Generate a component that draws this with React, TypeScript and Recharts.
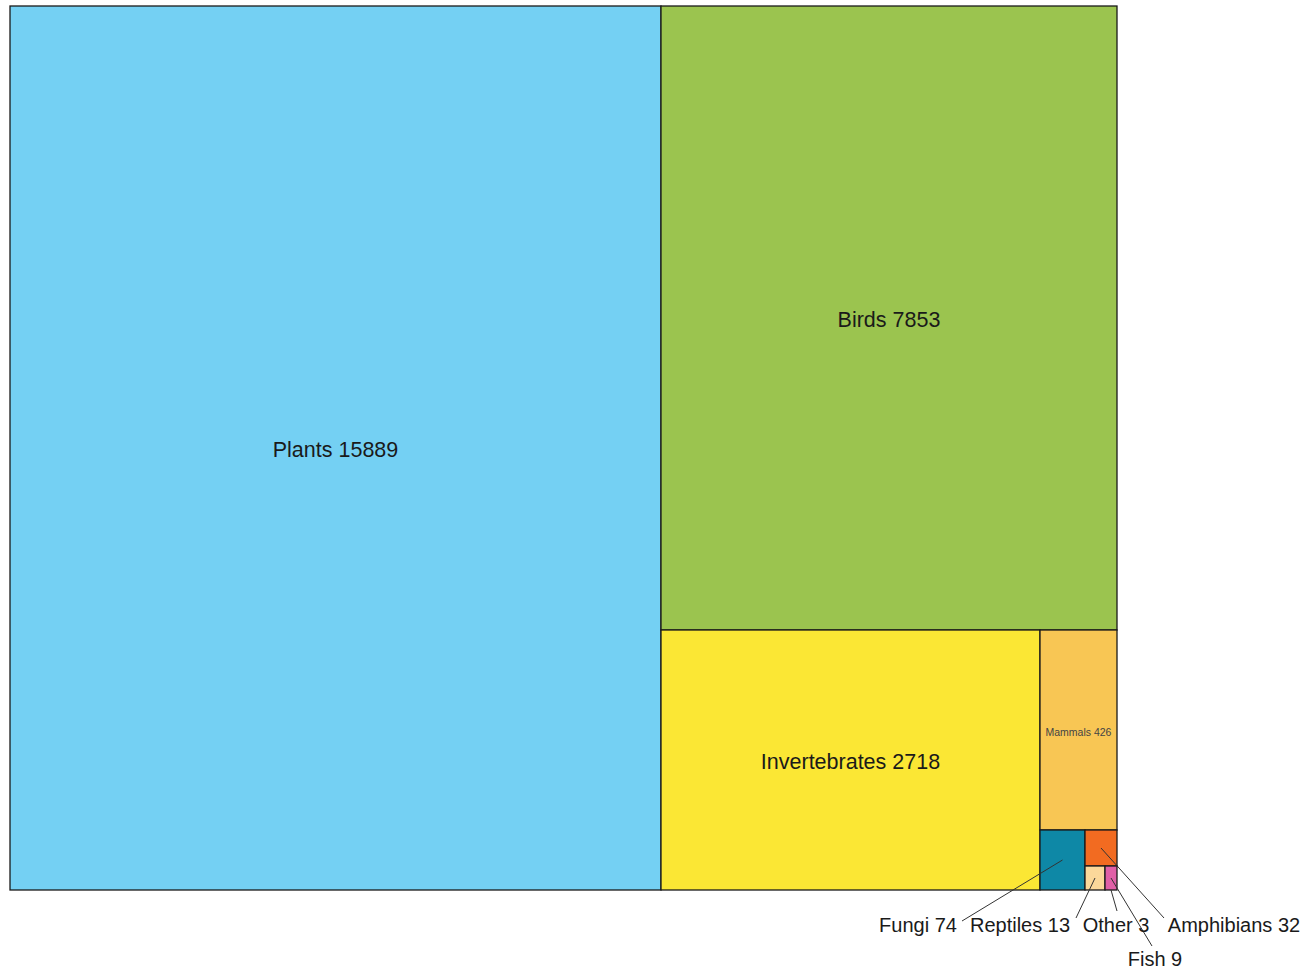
import React from 'react';
import { Treemap } from 'recharts';

const names = ['Plants', 'Birds', 'Invertebrates', 'Mammals', 'Fungi', 'Amphibians', 'Reptiles', 'Fish', 'Other'];
const counts = [15889, 7853, 2718, 426, 74, 32, 13, 9, 3];
const colors = ['#74D0F3', '#9BC44F', '#FBE734', '#F8C654', '#0E88A6', '#F26B21', '#FBD89A', '#E05FA7', '#7FD8D3'];

const data = names.map((name, i) => ({ name, size: counts[i], fill: colors[i] }));

// where the repelled labels of the tiny cells sit (relative to the treemap)
const outerLabels: Record<string, { tx: number; ty: number; lx: number; ly: number }> = {
  Fungi: { tx: 908, ty: 926, lx: 952, ly: 915 },
  Reptiles: { tx: 1010, ty: 926, lx: 1066, ly: 912 },
  Other: { tx: 1106, ty: 926, lx: 1107, ly: 905 },
  Amphibians: { tx: 1224, ty: 926, lx: 1154, ly: 912 },
  Fish: { tx: 1145, ty: 960, lx: 1142, ly: 940 },
};

const FONT = '"Liberation Sans", Arial, sans-serif';

const Cell = (props: any) => {
  const { x, y, width, height, depth, name, size, fill } = props;
  if (depth !== 1) return <g />;
  const cx = x + width / 2;
  const cy = y + height / 2;
  const outer = outerLabels[name];
  let label = null;
  if (outer) {
    label = (
      <g>
        <line x1={cx} y1={cy} x2={outer.lx} y2={outer.ly} stroke="#333" strokeWidth={1} />
        <text x={outer.tx} y={outer.ty} textAnchor="middle" fontSize={20} fontFamily={FONT} fill="#1a1a1a">
          {`${name} ${size}`}
        </text>
      </g>
    );
  } else {
    const small = width < 100;
    label = (
      <text x={cx} y={cy + 2} textAnchor="middle" dominantBaseline="central" fontSize={small ? 10.5 : 21.5}
        fontFamily={FONT} fill={small ? '#444' : '#1a1a1a'}>
        {`${name} ${size}`}
      </text>
    );
  }
  return (
    <g>
      <rect x={x} y={y} width={width} height={height} fill={fill} stroke="#1a1a1a" strokeWidth={1.3} />
      {label}
    </g>
  );
};

export default function App() {
  return (
    <div style={{ position: 'absolute', left: 10, top: 6 }}>
      <style>{'svg { overflow: visible; }'}</style>
      <Treemap
        width={1107}
        height={884}
        data={data}
        dataKey="size"
        nameKey="name"
        aspectRatio={1}
        isAnimationActive={false}
        content={<Cell />}
      />
    </div>
  );
}
